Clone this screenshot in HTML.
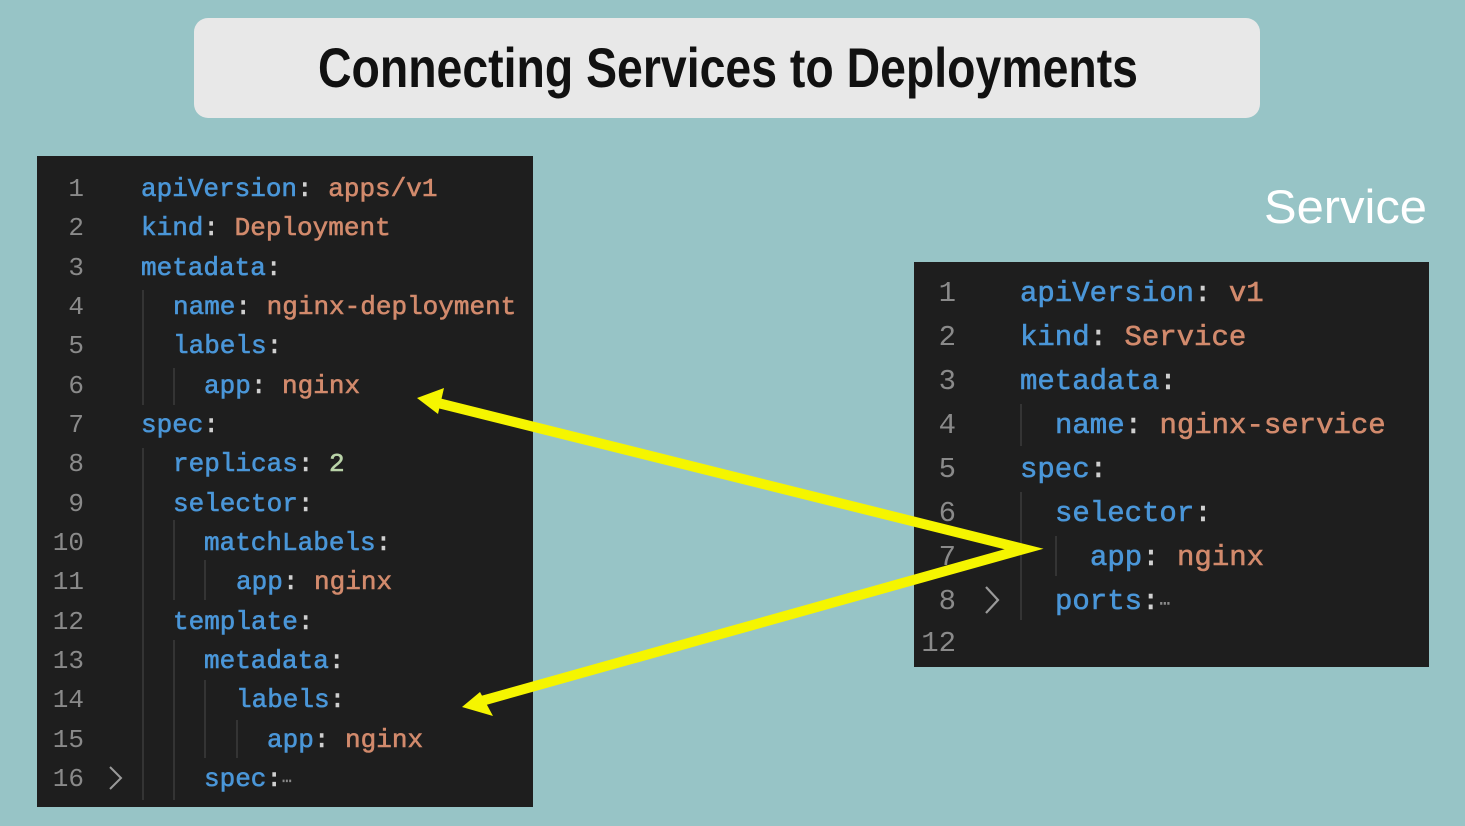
<!DOCTYPE html>
<html><head><meta charset="utf-8"><style>
html,body{margin:0;padding:0;background:#97c4c6;}
svg{display:block}
.m{font-family:"Liberation Mono",monospace;}
.k{fill:#4a96d8}.v{fill:#d28a6c}.n{fill:#b9d3a8}.c{fill:#d0d0d0}.ln{fill:#8a8a8a}
.code text{stroke-width:0.6px;paint-order:stroke}
.k{stroke:#4a96d8}.v{stroke:#d28a6c}.n{stroke:#b9d3a8}.c{stroke:#d0d0d0}
</style></head><body>
<svg width="1465" height="826" viewBox="0 0 1465 826" xmlns="http://www.w3.org/2000/svg">
<rect width="1465" height="826" fill="#97c4c6"/>
<rect x="194" y="18" width="1066" height="100" rx="14" fill="#e8e8e8"/>
<text x="318" y="87" font-family="Liberation Sans Narrow, Liberation Sans, sans-serif" font-weight="bold" font-size="56" textLength="820" lengthAdjust="spacingAndGlyphs" fill="#111">Connecting Services to Deployments</text>
<text x="1264" y="223" font-family="Liberation Sans, sans-serif" font-size="47" textLength="163" lengthAdjust="spacingAndGlyphs" fill="#fff">Service</text>

<rect x="37" y="156" width="496" height="651" fill="#1e1e1e"/>
<g stroke="#3c3c3c" stroke-width="1.5">
<line x1="143" y1="290" x2="143" y2="405"/>
<line x1="174" y1="368" x2="174" y2="405"/>
<line x1="143" y1="448" x2="143" y2="800"/>
<line x1="174" y1="520" x2="174" y2="600"/>
<line x1="174" y1="640" x2="174" y2="800"/>
<line x1="205" y1="560" x2="205" y2="600"/>
<line x1="205" y1="680" x2="205" y2="758"/>
<line x1="237" y1="720" x2="237" y2="758"/>
</g>
<g class="m code" font-size="26">
<g class="ln" text-anchor="end">
<text x="84" y="196">1</text><text x="84" y="235">2</text><text x="84" y="275">3</text><text x="84" y="314">4</text>
<text x="84" y="353">5</text><text x="84" y="393">6</text><text x="84" y="432">7</text><text x="84" y="471">8</text>
<text x="84" y="511">9</text><text x="84" y="550">10</text><text x="84" y="589">11</text><text x="84" y="629">12</text>
<text x="84" y="668">13</text><text x="84" y="707">14</text><text x="84" y="747">15</text><text x="84" y="786">16</text>
</g>
<polyline points="110,767 121,778 110,789" fill="none" stroke="#9a9a9a" stroke-width="2"/>
<text x="141" y="196"><tspan class="k">apiVersion</tspan><tspan class="c">: </tspan><tspan class="v">apps/v1</tspan></text>
<text x="141" y="235"><tspan class="k">kind</tspan><tspan class="c">: </tspan><tspan class="v">Deployment</tspan></text>
<text x="141" y="275"><tspan class="k">metadata</tspan><tspan class="c">:</tspan></text>
<text x="173" y="314"><tspan class="k">name</tspan><tspan class="c">: </tspan><tspan class="v">nginx-deployment</tspan></text>
<text x="173" y="353"><tspan class="k">labels</tspan><tspan class="c">:</tspan></text>
<text x="204" y="393"><tspan class="k">app</tspan><tspan class="c">: </tspan><tspan class="v">nginx</tspan></text>
<text x="141" y="432"><tspan class="k">spec</tspan><tspan class="c">:</tspan></text>
<text x="173" y="471"><tspan class="k">replicas</tspan><tspan class="c">: </tspan><tspan class="n">2</tspan></text>
<text x="173" y="511"><tspan class="k">selector</tspan><tspan class="c">:</tspan></text>
<text x="204" y="550"><tspan class="k">matchLabels</tspan><tspan class="c">:</tspan></text>
<text x="236" y="589"><tspan class="k">app</tspan><tspan class="c">: </tspan><tspan class="v">nginx</tspan></text>
<text x="173" y="629"><tspan class="k">template</tspan><tspan class="c">:</tspan></text>
<text x="204" y="668"><tspan class="k">metadata</tspan><tspan class="c">:</tspan></text>
<text x="236" y="707"><tspan class="k">labels</tspan><tspan class="c">:</tspan></text>
<text x="267" y="747"><tspan class="k">app</tspan><tspan class="c">: </tspan><tspan class="v">nginx</tspan></text>
<text x="204" y="786"><tspan class="k">spec</tspan><tspan class="c">:</tspan><tspan class="ln" font-size="16">⋯</tspan></text>
</g>

<rect x="914" y="262" width="515" height="405" fill="#1e1e1e"/>
<g stroke="#3c3c3c" stroke-width="1.5">
<line x1="1021" y1="404" x2="1021" y2="446"/>
<line x1="1021" y1="492" x2="1021" y2="620"/>
<line x1="1056" y1="536" x2="1056" y2="576"/>
</g>
<g class="m code" font-size="29">
<g class="ln" text-anchor="end">
<text x="956" y="301">1</text><text x="956" y="345">2</text><text x="956" y="389">3</text><text x="956" y="433">4</text>
<text x="956" y="477">5</text><text x="956" y="521">6</text><text x="956" y="565">7</text><text x="956" y="609">8</text>
<text x="956" y="651">12</text>
</g>
<polyline points="986,587 998,600 986,613" fill="none" stroke="#9a9a9a" stroke-width="2.2"/>
<text x="1020" y="301"><tspan class="k">apiVersion</tspan><tspan class="c">: </tspan><tspan class="v">v1</tspan></text>
<text x="1020" y="345"><tspan class="k">kind</tspan><tspan class="c">: </tspan><tspan class="v">Service</tspan></text>
<text x="1020" y="389"><tspan class="k">metadata</tspan><tspan class="c">:</tspan></text>
<text x="1055" y="433"><tspan class="k">name</tspan><tspan class="c">: </tspan><tspan class="v">nginx-service</tspan></text>
<text x="1020" y="477"><tspan class="k">spec</tspan><tspan class="c">:</tspan></text>
<text x="1055" y="521"><tspan class="k">selector</tspan><tspan class="c">:</tspan></text>
<text x="1090" y="565"><tspan class="k">app</tspan><tspan class="c">: </tspan><tspan class="v">nginx</tspan></text>
<text x="1055" y="609"><tspan class="k">ports</tspan><tspan class="c">:</tspan><tspan class="ln" font-size="18">⋯</tspan></text>
</g>

<g fill="none" stroke="#f5f500" stroke-width="10" stroke-linejoin="miter">
<polyline points="430,401 1024,549 478,702"/>
</g>
<polygon points="417,398 444,388 438,414" fill="#f5f500"/>
<polygon points="462,707 480,692 493,716" fill="#f5f500"/>
</svg>
</body></html>
